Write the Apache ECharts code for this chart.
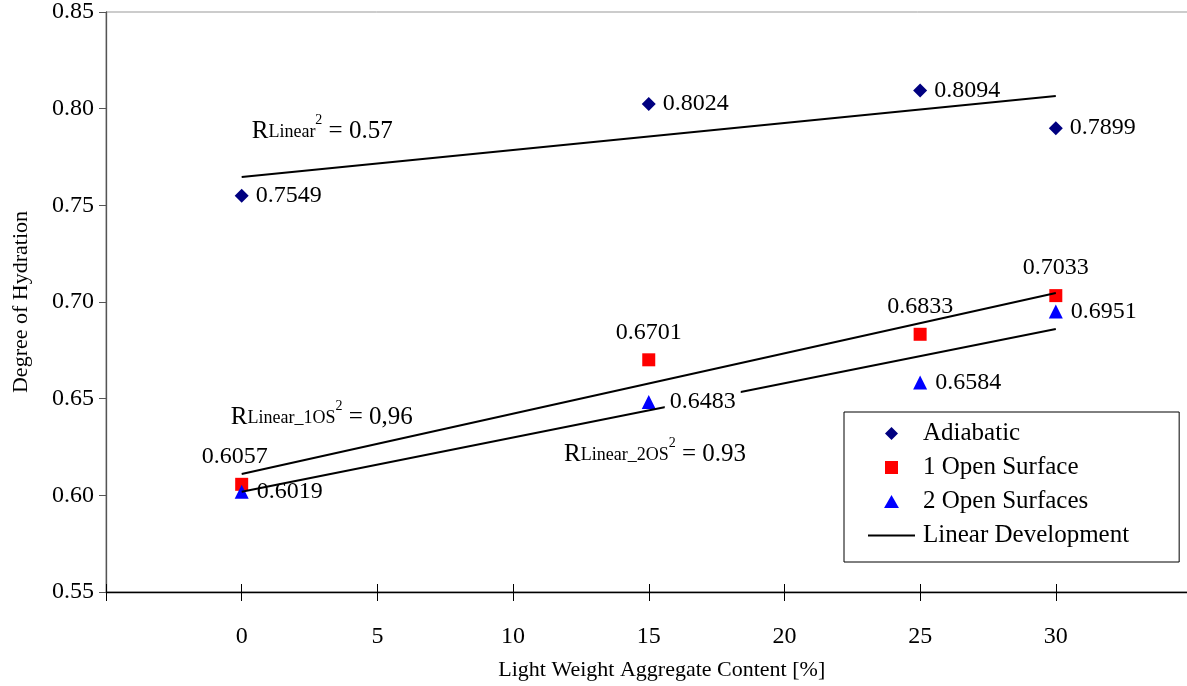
<!DOCTYPE html>
<html>
<head>
<meta charset="utf-8">
<script src="https://cdn.jsdelivr.net/npm/echarts@6/dist/echarts.min.js"></script>
<style>
html,body{margin:0;padding:0;background:#fff;}
#chart{width:1187px;height:686px;}
</style>
</head>
<body>
<div id="chart"></div>
<script>
// ---- data ----
const lwaContent = [0, 15, 25, 30];
const adiabatic = [0.7549, 0.8024, 0.8094, 0.7899];
const oneOpenSurface = [0.6057, 0.6701, 0.6833, 0.7033];
const twoOpenSurfaces = [0.6019, 0.6483, 0.6584, 0.6951];
const trendX = [0, 30];
const trendAdiabatic = [0.7647, 0.8066];
const trendOneOS = [0.6110, 0.7047];
const trendTwoOS = [0.6018, 0.6860];
const xTickLabels = ['0', '5', '10', '15', '20', '25', '30'];
const r2Subscripts = ['Linear', 'Linear_1OS', 'Linear_2OS'];
const r2Values = ['0.57', '0,96', '0.93'];
const seriesNames = ['Adiabatic', '1 Open Surface', '2 Open Surfaces', 'Linear Development'];

const FONT = 'Liberation Serif';
const pts = (xs, ys) => xs.map((x, i) => [x, ys[i]]);

// annotation anchors (data space)
const r2Anchors = [[0.37, 0.7884], [-0.40, 0.6405], [11.88, 0.6210]];

const richR2 = {
  big: { fontFamily: FONT, fontSize: 25, color: '#000', lineHeight: 36, verticalAlign: 'middle' },
  sub: { fontFamily: FONT, fontSize: 18, color: '#000', lineHeight: 36, verticalAlign: 'middle', padding: [2, 0, 0, 0] },
  sup: { fontFamily: FONT, fontSize: 14, color: '#000', lineHeight: 12, verticalAlign: 'top' }
};

const labelBase = { show: true, color: '#000', fontFamily: FONT, fontSize: 24, opacity: 1 };

// legend icon shapes (path symbols keep their aspect ratio)
const ICON_DIAMOND = 'path://M0,-1L1,0L0,1L-1,0Z';
const ICON_SQUARE = 'path://M0,0L1,0L1,1L0,1Z';
const ICON_TRIANGLE = 'path://M0,-1L1,0.75L-1,0.75Z';
const ICON_LINE = 'path://M0,0L47,0L47,2L0,2Z';

const chart = echarts.init(document.getElementById('chart'), null, { renderer: 'canvas' });
const option = {
  animation: false,
  backgroundColor: '#fff',
  grid: {
    left: 106, top: 12, bottom: 94, right: -4.5,
    show: true, borderColor: '#999', borderWidth: 1, backgroundColor: 'transparent',
    outerBoundsMode: 'none', containLabel: false
  },
  xAxis: [{
    type: 'value', min: -5, max: 35, interval: 5, position: 'bottom',
    name: 'Light Weight Aggregate Content [%]', nameLocation: 'middle', nameGap: 67,
    nameTextStyle: { fontFamily: FONT, fontSize: 22, color: '#000', padding: [0, 0, 0, 26] },
    axisLine: { show: true, onZero: false, lineStyle: { color: '#000', width: 1.3 } },
    axisTick: { show: true, inside: false, length: 9, lineStyle: { color: '#000' } },
    axisLabel: {
      margin: 33, color: '#000', fontFamily: FONT, fontSize: 24,
      formatter: v => xTickLabels.indexOf(String(v)) >= 0 ? String(v) : ''
    },
    splitLine: { show: false }
  }, {
    type: 'value', min: -5, max: 35, interval: 5, position: 'bottom', gridIndex: 0,
    axisLine: { show: false, onZero: false },
    axisTick: { show: true, inside: true, length: 8, lineStyle: { color: '#000' } },
    axisLabel: { show: false },
    splitLine: { show: false }
  }],
  yAxis: {
    type: 'value', min: 0.55, max: 0.85, interval: 0.05, position: 'left',
    name: 'Degree of Hydration', nameLocation: 'middle', nameGap: 74,
    nameTextStyle: { fontFamily: FONT, fontSize: 22, color: '#000' },
    axisLine: { show: true, onZero: false, lineStyle: { color: '#555', width: 1.3 } },
    axisTick: { show: true, inside: false, length: 7, lineStyle: { color: '#555' } },
    axisLabel: { margin: 12, color: '#000', fontFamily: FONT, fontSize: 24, formatter: v => v.toFixed(2) },
    splitLine: { show: false }
  },
  legend: {
    orient: 'vertical', left: 844, top: 412,
    data: [
      { name: seriesNames[0], icon: ICON_DIAMOND },
      { name: seriesNames[1], icon: ICON_SQUARE },
      { name: seriesNames[2], icon: ICON_TRIANGLE },
      { name: seriesNames[3], icon: ICON_LINE, itemStyle: { color: '#000' } }
    ],
    symbolKeepAspect: true,
    backgroundColor: '#fff', borderColor: '#000', borderWidth: 1,
    padding: [9, 50, 14, 24],
    itemWidth: 47, itemHeight: 13, itemGap: 9,
    textStyle: { fontFamily: FONT, fontSize: 25, color: '#000', lineHeight: 24, padding: [0, 0, 0, 3] }
  },
  series: [
    {
      name: seriesNames[0], type: 'scatter', z: 2, symbol: 'diamond', symbolSize: 14,
      itemStyle: { color: '#000080', opacity: 1 },
      label: Object.assign({}, labelBase, { position: 'right', distance: 7, formatter: p => p.value[1].toFixed(4) }),
      data: pts(lwaContent, adiabatic)
    },
    {
      name: seriesNames[1], type: 'scatter', z: 2, symbol: 'rect', symbolSize: 13,
      itemStyle: { color: '#ff0000', opacity: 1 },
      label: Object.assign({}, labelBase, { position: 'top', distance: 9, formatter: p => p.value[1].toFixed(4) }),
      data: pts(lwaContent, oneOpenSurface).map((d, i) => i === 0 ? { value: d, label: { offset: [-7, 0] } } : d)
    },
    {
      name: seriesNames[2], type: 'scatter', z: 2, symbol: 'triangle', symbolSize: 14,
      itemStyle: { color: '#0000ff', opacity: 1 },
      label: Object.assign({}, labelBase, { position: 'right', distance: 8, formatter: p => p.value[1].toFixed(4) }),
      data: pts(lwaContent, twoOpenSurfaces).map((d, i) => i === 1 ? { value: d, label: { show: false } } : d)
    },
    {
      name: seriesNames[3], type: 'line', z: 3, symbol: 'none', silent: true,
      lineStyle: { color: '#000', width: 2 }, itemStyle: { color: '#000' },
      data: pts(trendX, trendAdiabatic)
    },
    {
      name: seriesNames[3], type: 'line', z: 3, symbol: 'none', silent: true,
      lineStyle: { color: '#000', width: 2 }, itemStyle: { color: '#000' },
      data: pts(trendX, trendOneOS)
    },
    {
      name: seriesNames[3], type: 'line', z: 3, symbol: 'none', silent: true,
      lineStyle: { color: '#000', width: 2 }, itemStyle: { color: '#000' },
      data: pts(trendX, trendTwoOS)
    },
    {
      // overlay label with white background (covers the trend line as in the reference)
      name: 'overlay', type: 'scatter', z: 4, symbolSize: 0, silent: true,
      itemStyle: { opacity: 1, color: '#000' },
      label: Object.assign({}, labelBase, {
        position: 'right', distance: 16, backgroundColor: '#fff', padding: [0, 5],
        formatter: p => p.value[1].toFixed(4)
      }),
      data: [[lwaContent[1], twoOpenSurfaces[1]]]
    },
    {
      name: 'r2', type: 'scatter', z: 4, symbolSize: 0, silent: true,
      itemStyle: { opacity: 1, color: '#000' },
      label: {
        show: true, position: 'right', distance: 0, rich: richR2, color: '#000', opacity: 1,
        formatter: p => '{big|R}{sub|' + r2Subscripts[p.dataIndex] + '}{sup|2}{big| = ' + r2Values[p.dataIndex] + '}'
      },
      data: r2Anchors
    }
  ]
};
chart.setOption(option);
</script>
</body>
</html>
